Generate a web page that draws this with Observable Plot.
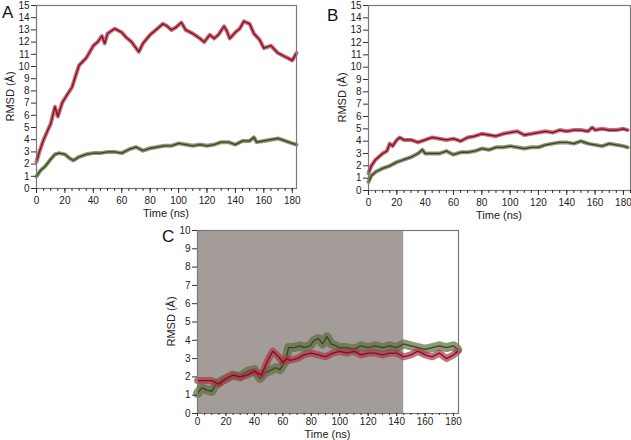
<!DOCTYPE html>
<html><head><meta charset="utf-8">
<script src="https://cdn.jsdelivr.net/npm/d3@7"></script>
<script src="https://cdn.jsdelivr.net/npm/@observablehq/plot@0.6"></script>
<style>
body{margin:0;background:#fff;width:631px;height:440px;overflow:hidden;position:relative;font-family:"Liberation Sans",Arial,sans-serif}
.p{position:absolute}
.lbl{position:absolute;font-size:17px;color:#111}
</style></head><body>
<div id="A" class="p" style="left:0;top:0"></div>
<div id="B" class="p" style="left:332px;top:0"></div>
<div id="C" class="p" style="left:161px;top:225px"></div>
<div class="lbl" style="left:2px;top:3px">A</div>
<div class="lbl" style="left:327px;top:6px">B</div>
<div class="lbl" style="left:162px;top:227px">C</div>
<script>
// Panel A
const tRedA=[0,2,5,8,10,13,15,18,20,25,28,30,35,40,43,46,48,50,55,60,63,67,72,75,80,85,89,92,95,98,102,105,110,115,118,122,125,128,132,134,136,140,143,146,150,153,157,160,165,170,175,180,183];
const redA=[2.2,3.0,4.0,4.8,5.3,6.7,5.9,7.0,7.4,8.3,9.4,10.1,10.7,11.7,12.0,12.5,11.9,12.7,13.1,12.8,12.4,12.0,11.2,11.9,12.6,13.1,13.5,13.3,13.0,13.2,13.6,13.0,12.7,12.3,12.0,12.6,12.3,12.6,13.3,12.9,12.3,12.8,13.1,13.7,13.5,12.7,12.2,11.5,11.7,11.1,10.8,10.5,11.1];
const tGreenA=[0,3,6,10,13,16,20,23,26,30,35,40,45,50,55,60,65,70,75,80,85,90,95,100,105,110,115,120,125,130,135,140,145,150,153,155,160,165,170,175,180,183];
const greenA=[1.0,1.5,1.8,2.4,2.8,2.9,2.8,2.5,2.3,2.6,2.8,2.9,2.9,3.0,3.0,2.9,3.2,3.4,3.1,3.3,3.4,3.5,3.5,3.7,3.6,3.5,3.6,3.5,3.6,3.8,3.8,3.6,3.9,3.9,4.2,3.8,3.9,4.0,4.1,3.9,3.7,3.6];
// Panel B
const tRedB=[0,2,5,8,10,13,15,17,20,22,25,30,35,40,45,50,55,60,65,70,75,80,85,90,95,100,105,110,115,120,125,130,135,140,145,150,155,158,160,165,170,175,180,183];
const redB=[1.4,2.0,2.5,2.8,3.0,3.2,3.8,3.6,4.1,4.3,4.1,4.1,3.9,4.1,4.3,4.2,4.1,4.2,4.0,4.3,4.4,4.6,4.5,4.4,4.6,4.7,4.8,4.5,4.6,4.7,4.8,4.7,4.9,4.8,4.9,4.9,4.8,5.1,4.9,5.0,4.9,4.9,5.0,4.9];
const tGreenB=[0,2,5,10,15,20,25,30,35,38,40,45,50,55,60,65,70,75,80,85,90,95,100,105,110,115,120,125,130,135,140,145,150,155,160,165,170,175,180,183];
const greenB=[0.7,1.2,1.5,1.8,2.0,2.3,2.5,2.7,3.0,3.3,3.0,3.0,3.0,3.2,2.9,3.1,3.1,3.2,3.4,3.3,3.5,3.5,3.6,3.5,3.4,3.5,3.5,3.7,3.8,3.9,3.9,3.8,4.0,3.8,3.7,3.6,3.8,3.7,3.6,3.5];
// Panel C
const tRedC=[0,5,10,15,20,25,30,35,40,45,50,53,57,60,63,65,70,75,80,85,90,95,100,105,110,115,120,125,130,135,140,145,150,155,160,165,170,175,180,183];
const redC=[1.8,1.8,1.8,1.6,1.9,2.1,2.0,2.1,2.3,2.1,3.0,3.4,3.1,2.8,3.0,2.9,3.0,3.2,3.3,3.2,3.1,3.3,3.4,3.3,3.4,3.2,3.3,3.3,3.2,3.3,3.3,3.1,3.2,3.4,3.2,3.1,3.3,3.0,3.2,3.4];
const tGreenC=[0,3,6,10,13,17,20,25,30,35,40,44,47,50,55,58,62,64,68,72,75,79,82,85,88,91,94,100,105,110,115,120,125,130,135,140,145,150,155,160,165,170,175,180,183];
const greenC=[1.1,1.4,1.3,1.2,1.6,1.8,1.9,2.1,2.0,2.3,2.4,1.9,2.2,2.3,2.5,2.4,2.9,3.6,3.6,3.7,3.6,3.7,4.0,4.1,3.8,4.2,3.8,3.6,3.6,3.5,3.7,3.6,3.7,3.6,3.7,3.6,3.8,3.7,3.6,3.5,3.6,3.7,3.6,3.7,3.5];
const shadeC=[0,145];
const xMajor=[0,20,40,60,80,100,120,140,160,180];
const xMinor=d3.range(0,186,5);

const RED="#880a1c", REDH="#a83848", GRN="#37471c", GRNH="#5b6c3f";
const toRows=(t,v)=>t.map((x,i)=>({x,y:v[i]}));

function panel(el,{width,height,mt,mr,mb,ml,xmax,ymax,series,shade,xts,xtp,timeDy}){
  const marks=[];
  if(shade) marks.push(Plot.rect([{x1:shade[0],x2:shade[1]}],{x1:"x1",x2:"x2",y1:0,y2:ymax,fill:"#a49c99"}));
  for(const s of series){
    marks.push(Plot.line(toRows(s.t,s.v),{x:"x",y:"y",stroke:s.h,strokeWidth:s.w,strokeOpacity:0.7}));
    marks.push(Plot.line(toRows(s.t,s.v),{x:"x",y:"y",stroke:s.c,strokeWidth:1.3}));
  }
  marks.push(Plot.frame({stroke:"#7a7a7a",strokeWidth:1.2}));
  marks.push(Plot.axisY({ticks:d3.range(0,ymax+1),tickSize:5,tickPadding:2,stroke:"#333",label:null,fontSize:10}));
  marks.push(Plot.axisX({ticks:xMajor,tickSize:xts,tickPadding:xtp,stroke:"#333",label:null,fontSize:10}));
  marks.push(Plot.axisX({ticks:xMinor.filter(d=>d<=xmax),tickSize:Math.max(2,xts-2),text:null,stroke:"#333",label:null}));
  const svg=Plot.plot({width,height,marginTop:mt,marginRight:mr,marginBottom:mb,marginLeft:ml,
    style:{fontFamily:"Liberation Sans, Arial, sans-serif",color:"#222",background:"transparent",overflow:"visible"},
    x:{domain:[0,xmax]},y:{domain:[0,ymax]},marks});
  document.getElementById(el).appendChild(svg);
  const ns="http://www.w3.org/2000/svg";
  const px=ml+(width-ml-mr)/2;
  const tx=document.createElementNS(ns,"text");
  tx.setAttribute("x",px);tx.setAttribute("y",height-mb+timeDy);tx.setAttribute("text-anchor","middle");
  tx.setAttribute("font-size","11");tx.setAttribute("fill","#222");tx.textContent="Time (ns)";svg.appendChild(tx);
  const ty=document.createElementNS(ns,"text");
  const cy=mt+(height-mt-mb)/2;
  ty.setAttribute("transform",`translate(${ml-22},${cy}) rotate(-90)`);ty.setAttribute("text-anchor","middle");
  ty.setAttribute("font-size","11");ty.setAttribute("fill","#222");ty.textContent="RMSD (Å)";svg.appendChild(ty);
}
panel("A",{width:310,height:220,mt:5,mr:14,mb:32,ml:36,xmax:183,ymax:15,xts:5,xtp:3,timeDy:29,
  series:[{t:tGreenA,v:greenA,c:GRN,h:GRNH,w:4},{t:tRedA,v:redA,c:RED,h:REDH,w:4}]});
panel("B",{width:299,height:220,mt:5,mr:1,mb:30,ml:36,xmax:185,ymax:15,xts:5,xtp:3,timeDy:29,
  series:[{t:tGreenB,v:greenB,c:GRN,h:GRNH,w:4},{t:tRedB,v:redB,c:RED,h:REDH,w:4}]});
panel("C",{width:310,height:215,mt:5,mr:13,mb:27,ml:36,xmax:183.5,ymax:10,shade:shadeC,xts:3,xtp:1,timeDy:25,
  series:[{t:tGreenC,v:greenC,c:GRN,h:GRNH,w:9},{t:tRedC,v:redC,c:RED,h:REDH,w:7}]});
</script></body></html>
